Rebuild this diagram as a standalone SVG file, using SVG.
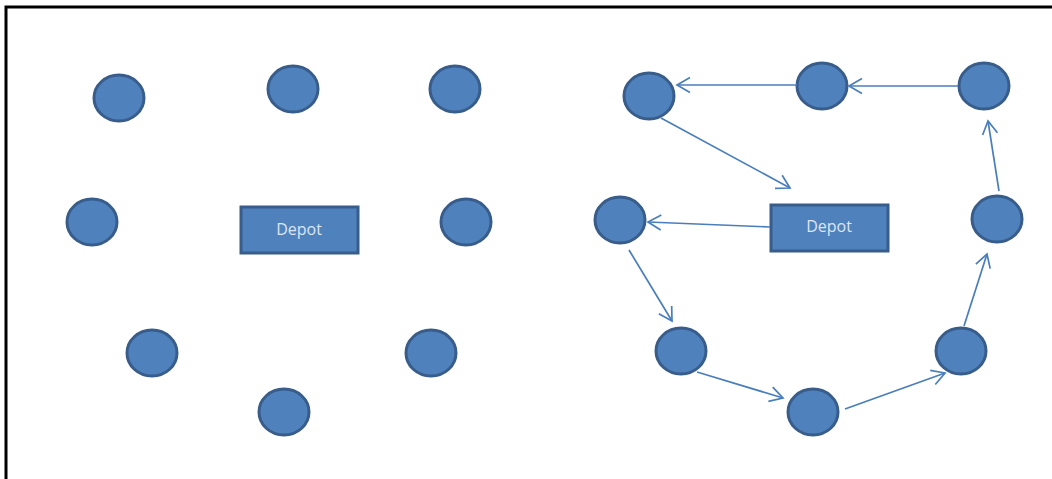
<svg xmlns="http://www.w3.org/2000/svg" width="1052" height="479" viewBox="0 0 1052 479">
<style>
.n{fill:#4f81bd;stroke:#385d8a;stroke-width:3}
.c{stroke:#4a7ebb;stroke-width:1.7;fill:none;marker-end:url(#a)}
.t{font-family:"Open Sans","Liberation Sans",sans-serif;font-size:16px;fill:#dce6f2;text-anchor:middle;dominant-baseline:central}
</style>
<defs>
<marker id="a" markerUnits="userSpaceOnUse" markerWidth="16" markerHeight="18" refX="14" refY="9" orient="auto" viewBox="0 0 16 18">
<path d="M1,1.5 L14,9 L1,16.5" fill="none" stroke="#4a7ebb" stroke-width="1.7"/>
</marker>
</defs>
<rect width="1052" height="479" fill="#fff"/>
<path d="M6,479 V7 H1052" fill="none" stroke="#000" stroke-width="3"/>
<g id="L1"><ellipse class="n" cx="119" cy="98" rx="25" ry="23"/></g>
<g id="L2"><ellipse class="n" cx="293" cy="89" rx="25" ry="23"/></g>
<g id="L3"><ellipse class="n" cx="455" cy="89" rx="25" ry="23"/></g>
<g id="L4"><ellipse class="n" cx="92" cy="222" rx="25" ry="23"/></g>
<g id="L5"><ellipse class="n" cx="466" cy="222" rx="25" ry="23"/></g>
<g id="L6"><ellipse class="n" cx="152" cy="353" rx="25" ry="23"/></g>
<g id="L7"><ellipse class="n" cx="431" cy="353" rx="25" ry="23"/></g>
<g id="L8"><ellipse class="n" cx="284" cy="412" rx="25" ry="23"/></g>
<g id="depotL"><rect class="n" x="241" y="207" width="117" height="46"/><text class="t" x="299" y="229">Depot</text></g>
<g id="R1"><ellipse class="n" cx="649" cy="96" rx="25" ry="23"/></g>
<g id="R2"><ellipse class="n" cx="822" cy="86" rx="25" ry="23"/></g>
<g id="R3"><ellipse class="n" cx="984" cy="86" rx="25" ry="23"/></g>
<g id="R4"><ellipse class="n" cx="997" cy="219" rx="25" ry="23"/></g>
<g id="R5"><ellipse class="n" cx="620" cy="220" rx="25" ry="23"/></g>
<g id="R6"><ellipse class="n" cx="681" cy="351" rx="25" ry="23"/></g>
<g id="R7"><ellipse class="n" cx="813" cy="412" rx="25" ry="23"/></g>
<g id="R8"><ellipse class="n" cx="961" cy="351" rx="25" ry="23"/></g>
<g id="depotR"><rect class="n" x="771" y="205" width="117" height="46"/><text class="t" x="829" y="226">Depot</text></g>
<g id="connectors">
<line class="c" x1="797" y1="85" x2="677" y2="85"/>
<line class="c" x1="958" y1="86" x2="849" y2="86"/>
<line class="c" x1="999" y1="191" x2="988" y2="121"/>
<line class="c" x1="661" y1="118" x2="790" y2="188"/>
<line class="c" x1="770" y1="227" x2="648" y2="222"/>
<line class="c" x1="629" y1="250" x2="672" y2="321"/>
<line class="c" x1="697" y1="372" x2="783" y2="398"/>
<line class="c" x1="845" y1="409" x2="945" y2="373"/>
<line class="c" x1="964" y1="326" x2="987" y2="254"/>
</g>
</svg>
